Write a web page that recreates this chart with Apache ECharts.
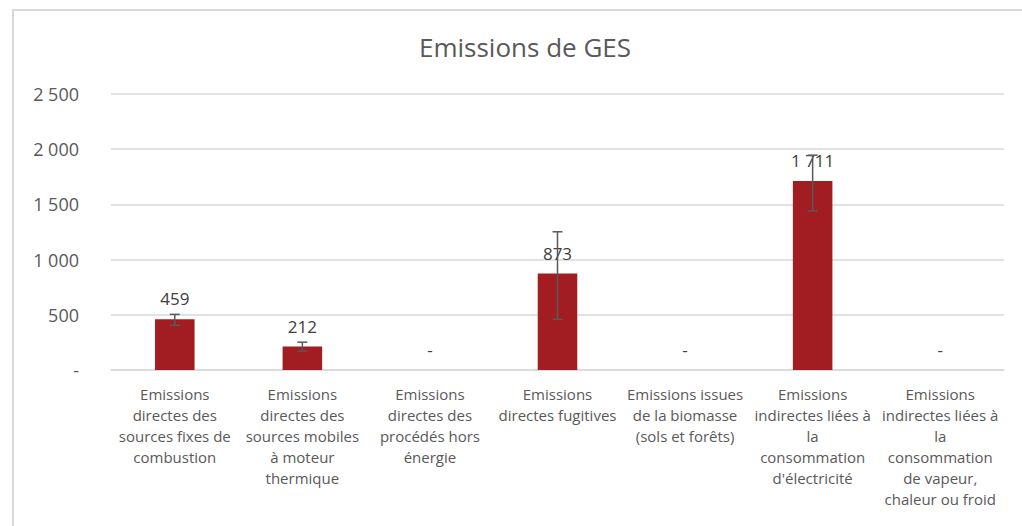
<!DOCTYPE html>
<html>
<head>
<meta charset="utf-8">
<script src="https://cdn.jsdelivr.net/npm/echarts@6/dist/echarts.min.js"></script>
<style>
  html, body { margin: 0; padding: 0; background: #fff; }
  #chart { width: 1022px; height: 526px; }
</style>
</head>
<body>
<div id="chart"></div>
<script>
var categories = [
  'Emissions\ndirectes des\nsources fixes de\ncombustion',
  'Emissions\ndirectes des\nsources mobiles\nà moteur\nthermique',
  'Emissions\ndirectes des\nprocédés hors\nénergie',
  'Emissions\ndirectes fugitives',
  'Emissions issues\nde la biomasse\n(sols et forêts)',
  'Emissions\nindirectes liées à\nla\nconsommation\nd\'électricité',
  'Emissions\nindirectes liées à\nla\nconsommation\nde vapeur,\nchaleur ou froid'
];
var emissions = [459, 212, 0, 873, 0, 1711, 0];
var errLow = [405, 171, null, 459, null, 1441, null];
var errHigh = [504, 252, null, 1252, null, 1946, null];
var yTicks = [0, 500, 1000, 1500, 2000, 2500];

(function() {
  var ink = '#595959';
  var grid = '#d9d9d9';
  var barColor = '#a21d21';
  var font = '"Open Sans", sans-serif';

  function fmt(v) {
    if (!v) return '-';
    return String(v).replace(/\B(?=(\d{3})+(?!\d))/g, ' ');
  }

  var errData = categories.map(function(c, i) {
    return errLow[i] == null ? null : [i, errLow[i], errHigh[i]];
  }).filter(function(d) { return d; });

  var chart = echarts.init(document.getElementById('chart'), null, { renderer: 'svg' });
  chart.setOption({
    animation: false,
    textStyle: { fontFamily: font },
    title: {
      text: 'Emissions de GES',
      left: 414,
      top: 29,
      textStyle: { color: ink, fontSize: 26, fontWeight: 'normal', fontFamily: font }
    },
    graphic: [{
      type: 'rect',
      shape: { x: 13, y: 10, width: 1030, height: 540 },
      style: { fill: 'none', stroke: grid, lineWidth: 2 },
      silent: true
    }],
    grid: { left: 111, right: 18, top: 94, bottom: 156 },
    xAxis: {
      type: 'category',
      data: categories,
      axisLine: { show: true, lineStyle: { color: grid, width: 1.5 } },
      axisTick: { show: false },
      axisLabel: {
        color: ink, fontSize: 15, lineHeight: 21, margin: 13,
        interval: 0, fontFamily: font
      }
    },
    yAxis: {
      type: 'value',
      min: yTicks[0],
      max: yTicks[yTicks.length - 1],
      interval: yTicks[1] - yTicks[0],
      axisLine: { show: false },
      axisTick: { show: false },
      splitLine: { lineStyle: { color: grid, width: 1.5 } },
      axisLabel: { color: ink, fontSize: 18, margin: 32, formatter: fmt, fontFamily: font }
    },
    series: [
      {
        type: 'bar',
        data: emissions,
        barWidth: '31%',
        itemStyle: { color: barColor },
        label: {
          show: true, position: 'top', distance: 12,
          color: '#404040', fontSize: 17, fontFamily: font,
          formatter: function(p) { return fmt(p.value); }
        },
        z: 2
      },
      {
        type: 'custom',
        data: errData,
        z: 3,
        renderItem: function(params, api) {
          var x = api.value(0);
          var lo = api.coord([x, api.value(1)]);
          var hi = api.coord([x, api.value(2)]);
          var hw = 5;
          var st = { stroke: '#595959', lineWidth: 1.5 };
          return {
            type: 'group',
            children: [
              { type: 'line', shape: { x1: lo[0], y1: lo[1], x2: hi[0], y2: hi[1] }, style: st },
              { type: 'line', shape: { x1: hi[0] - hw, y1: hi[1], x2: hi[0] + hw, y2: hi[1] }, style: st },
              { type: 'line', shape: { x1: lo[0] - hw, y1: lo[1], x2: lo[0] + hw, y2: lo[1] }, style: st }
            ]
          };
        }
      }
    ]
  });
})();
</script>
</body>
</html>
